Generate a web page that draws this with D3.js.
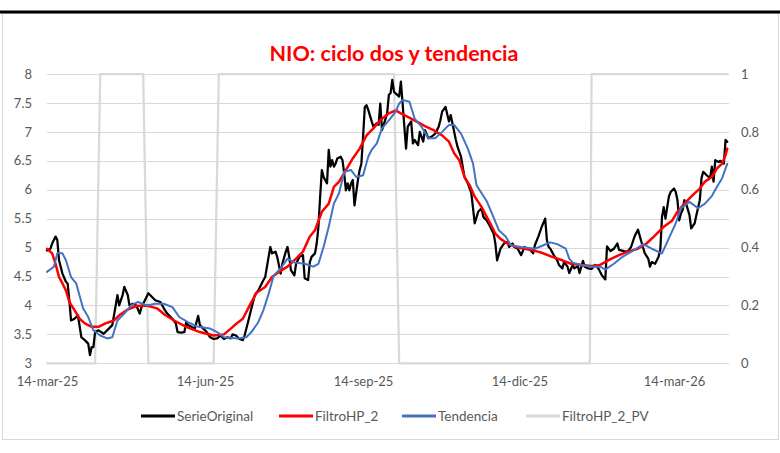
<!DOCTYPE html>
<html>
<head>
<meta charset="utf-8">
<script src="https://cdn.jsdelivr.net/npm/d3@7"></script>
<style>
  html, body { margin: 0; padding: 0; background: #fff; }
  svg { display: block; font-family: Lato, "Open Sans", sans-serif; }
</style>
</head>
<body>
<svg id="chart" width="780" height="453"></svg>
<script>
// ---------------- DATA ----------------
const title = "NIO: ciclo dos y tendencia";
const seriesNames = ["SerieOriginal", "FiltroHP_2", "Tendencia", "FiltroHP_2_PV"];
const seriesColors = ["#000000", "#ff0000", "#4472c4", "#d9d9d9"];

const leftTicks = [3, 3.5, 4, 4.5, 5, 5.5, 6, 6.5, 7, 7.5, 8];
const rightTicks = [0, 0.2, 0.4, 0.6, 0.8, 1];
const xTickDates = ["2025-03-14", "2025-06-14", "2025-09-14", "2025-12-14", "2026-03-14"];
const xTickLabels = ["14-mar-25", "14-jun-25", "14-sep-25", "14-dic-25", "14-mar-26"];
const xDomain = ["2025-03-14", "2026-04-15"];

const origDates = [
"2025-03-14","2025-03-16","2025-03-17","2025-03-19","2025-03-20","2025-03-21","2025-03-23","2025-03-25","2025-03-26","2025-03-27",
"2025-03-28","2025-03-30","2025-04-01","2025-04-03","2025-04-05","2025-04-07","2025-04-08","2025-04-09","2025-04-10","2025-04-11",
"2025-04-13","2025-04-16","2025-04-19","2025-04-21","2025-04-23","2025-04-24","2025-04-25","2025-04-27","2025-04-28","2025-04-30",
"2025-05-01","2025-05-03","2025-05-05","2025-05-07","2025-05-08","2025-05-10","2025-05-12","2025-05-14","2025-05-16","2025-05-19",
"2025-05-21","2025-05-23","2025-05-26","2025-05-28","2025-05-29","2025-05-31","2025-06-02","2025-06-03","2025-06-04","2025-06-06",
"2025-06-08","2025-06-10","2025-06-11","2025-06-13","2025-06-15","2025-06-17","2025-06-19","2025-06-21","2025-06-23","2025-06-25",
"2025-06-27","2025-06-29","2025-06-30","2025-07-02","2025-07-04","2025-07-06","2025-07-07","2025-07-09","2025-07-11","2025-07-13",
"2025-07-15","2025-07-17","2025-07-18","2025-07-19","2025-07-21","2025-07-22","2025-07-23","2025-07-25","2025-07-26","2025-07-28",
"2025-07-29","2025-07-31","2025-08-01","2025-08-02","2025-08-03","2025-08-05","2025-08-06","2025-08-08","2025-08-10","2025-08-11",
"2025-08-13","2025-08-14","2025-08-15","2025-08-17","2025-08-18","2025-08-19","2025-08-20","2025-08-21","2025-08-22","2025-08-24",
"2025-08-25","2025-08-26","2025-08-27","2025-08-28","2025-08-29","2025-08-30","2025-09-01","2025-09-02","2025-09-03","2025-09-04",
"2025-09-05","2025-09-06","2025-09-07","2025-09-08","2025-09-09","2025-09-11","2025-09-12","2025-09-13","2025-09-14","2025-09-15",
"2025-09-16","2025-09-17","2025-09-19","2025-09-20","2025-09-22","2025-09-23","2025-09-24","2025-09-25","2025-09-26","2025-09-28",
"2025-09-29","2025-09-30","2025-10-01","2025-10-02","2025-10-05","2025-10-06","2025-10-07","2025-10-09","2025-10-10","2025-10-12",
"2025-10-13","2025-10-14","2025-10-16","2025-10-17","2025-10-19","2025-10-20","2025-10-22","2025-10-24","2025-10-26","2025-10-28",
"2025-10-29","2025-10-30","2025-11-01","2025-11-03","2025-11-04","2025-11-05","2025-11-07","2025-11-08","2025-11-10","2025-11-12",
"2025-11-14","2025-11-16","2025-11-18","2025-11-20","2025-11-22","2025-11-23","2025-11-25","2025-11-27","2025-11-29","2025-11-30",
"2025-12-01","2025-12-03","2025-12-05","2025-12-07","2025-12-08","2025-12-10","2025-12-11","2025-12-13","2025-12-15","2025-12-17",
"2025-12-18","2025-12-20","2025-12-22","2025-12-23","2025-12-25","2025-12-27","2025-12-29","2025-12-30","2025-12-31","2026-01-01",
"2026-01-03","2026-01-05","2026-01-06","2026-01-08","2026-01-09","2026-01-11","2026-01-12","2026-01-14","2026-01-15","2026-01-17",
"2026-01-18","2026-01-20","2026-01-21","2026-01-23","2026-01-25","2026-01-27","2026-01-29","2026-01-31","2026-02-02","2026-02-03",
"2026-02-05","2026-02-07","2026-02-09","2026-02-10","2026-02-13","2026-02-15","2026-02-17","2026-02-19","2026-02-21","2026-02-23",
"2026-02-25","2026-02-27","2026-02-28","2026-03-01","2026-03-03","2026-03-05","2026-03-06","2026-03-07","2026-03-08","2026-03-09",
"2026-03-11","2026-03-12","2026-03-14","2026-03-15","2026-03-16","2026-03-17","2026-03-18","2026-03-19","2026-03-20","2026-03-21",
"2026-03-23","2026-03-24","2026-03-26","2026-03-27","2026-03-29","2026-03-30","2026-03-31","2026-04-02","2026-04-04","2026-04-05",
"2026-04-06","2026-04-07","2026-04-09","2026-04-10","2026-04-12","2026-04-13","2026-04-14"
];
const origValues = [
4.95,4.98,5.07,5.19,5.13,4.78,4.55,4.41,4.38,4.09,
3.74,3.77,3.83,3.45,3.40,3.34,3.14,3.28,3.28,3.54,
3.57,3.51,3.60,3.66,4.00,4.18,4.00,4.18,4.32,4.18,
4.00,4.03,4.00,3.86,3.97,4.09,4.21,4.15,4.09,4.06,
3.95,3.86,3.77,3.69,3.54,3.53,3.54,3.71,3.66,3.63,
3.60,3.82,3.66,3.60,3.54,3.45,3.42,3.43,3.48,3.42,
3.45,3.43,3.50,3.48,3.42,3.40,3.48,3.71,3.95,4.18,
4.26,4.38,4.44,4.49,4.84,5.01,4.90,4.93,4.84,4.55,
4.72,4.93,5.01,4.84,4.61,4.52,4.72,4.84,4.87,4.47,
4.44,4.75,4.84,4.90,5.07,5.36,5.88,6.34,6.22,6.11,
6.69,6.40,6.51,6.40,6.45,6.54,6.57,6.51,6.28,5.99,
6.11,5.99,6.11,6.17,5.73,6.17,6.34,6.45,6.92,7.43,
7.46,7.38,7.18,7.09,7.15,7.12,7.49,7.03,7.12,7.32,
7.64,7.67,7.90,7.69,7.61,7.87,7.49,6.71,7.09,7.18,
6.80,6.86,6.77,7.00,6.83,7.03,6.89,6.92,6.97,7.09,
7.20,7.35,7.43,7.18,7.29,7.15,6.86,6.74,6.57,6.22,
6.11,5.94,5.42,5.62,5.68,5.53,5.47,5.36,5.24,5.07,
4.78,4.98,5.07,5.10,5.01,5.07,5.01,4.98,4.87,5.01,
4.98,4.97,4.90,5.04,5.19,5.36,5.50,5.13,5.01,4.98,
4.87,4.78,4.70,4.64,4.75,4.67,4.56,4.70,4.64,4.68,
4.56,4.77,4.67,4.64,4.63,4.70,4.64,4.52,4.45,5.02,
4.94,4.98,5.07,4.96,4.94,4.93,5.01,5.19,5.31,5.10,
4.90,4.81,4.67,4.75,4.72,4.84,4.96,5.53,5.70,5.50,
5.88,5.96,6.02,5.96,5.82,5.47,5.59,5.65,5.82,5.76,
5.56,5.33,5.42,5.56,5.82,6.20,6.31,6.25,6.20,6.40,
6.14,6.51,6.48,6.50,6.45,6.86,6.83
];

const hpDates = [
"2025-03-14","2025-03-17","2025-03-19","2025-03-21","2025-03-23","2025-03-25","2025-03-27","2025-03-30","2025-04-02","2025-04-05",
"2025-04-09","2025-04-13","2025-04-17","2025-04-22","2025-04-25","2025-04-30","2025-05-05","2025-05-11","2025-05-17","2025-05-22",
"2025-05-27","2025-06-03","2025-06-11","2025-06-19","2025-06-25","2025-06-29","2025-07-02","2025-07-06","2025-07-10","2025-07-14",
"2025-07-19","2025-07-23","2025-07-27","2025-08-01","2025-08-06","2025-08-10","2025-08-14","2025-08-17","2025-08-21","2025-08-25",
"2025-08-28","2025-08-31","2025-09-04","2025-09-08","2025-09-12","2025-09-16","2025-09-20","2025-09-24","2025-09-29","2025-10-03",
"2025-10-06","2025-10-10","2025-10-15","2025-10-20","2025-10-25","2025-10-30","2025-11-03","2025-11-06","2025-11-09","2025-11-12",
"2025-11-15","2025-11-18","2025-11-22","2025-11-25","2025-11-27","2025-11-30","2025-12-03","2025-12-07","2025-12-13","2025-12-21",
"2025-12-27","2026-01-02","2026-01-08","2026-01-13","2026-01-19","2026-01-25","2026-01-30","2026-02-05","2026-02-10","2026-02-15",
"2026-02-21","2026-02-26","2026-03-03","2026-03-08","2026-03-13","2026-03-16","2026-03-20","2026-03-25","2026-03-29","2026-04-01",
"2026-04-05","2026-04-08","2026-04-11","2026-04-13","2026-04-14"
];
const hpValues = [
4.98,4.90,4.72,4.49,4.38,4.26,4.06,3.92,3.77,3.69,
3.63,3.63,3.69,3.74,3.83,3.93,3.99,4.00,3.95,3.83,
3.74,3.63,3.54,3.48,3.50,3.60,3.68,3.77,4.00,4.22,
4.32,4.49,4.58,4.67,4.81,4.93,5.19,5.30,5.62,5.76,
6.05,6.14,6.34,6.54,6.71,6.94,7.06,7.20,7.32,7.37,
7.32,7.26,7.18,7.10,7.03,6.94,6.83,6.63,6.51,6.22,
6.08,5.88,5.70,5.53,5.42,5.24,5.15,5.07,5.00,4.96,
4.91,4.84,4.78,4.72,4.70,4.68,4.70,4.80,4.87,4.93,
4.98,5.07,5.21,5.36,5.47,5.62,5.76,5.91,6.02,6.14,
6.22,6.37,6.45,6.60,6.71
];

const trendDates = [
"2025-03-14","2025-03-18","2025-03-20","2025-03-23","2025-03-25","2025-03-28","2025-03-31","2025-04-04","2025-04-07","2025-04-10",
"2025-04-14","2025-04-18","2025-04-21","2025-04-24","2025-04-28","2025-05-02","2025-05-06","2025-05-11","2025-05-16","2025-05-21",
"2025-05-26","2025-05-30","2025-06-04","2025-06-10","2025-06-17","2025-06-21","2025-06-25","2025-07-03","2025-07-08","2025-07-11",
"2025-07-15","2025-07-18","2025-07-21","2025-07-24","2025-07-28","2025-08-01","2025-08-05","2025-08-11","2025-08-16","2025-08-19",
"2025-08-22","2025-08-25","2025-08-28","2025-08-31","2025-09-03","2025-09-07","2025-09-10","2025-09-14","2025-09-17","2025-09-19",
"2025-09-22","2025-09-25","2025-09-29","2025-10-03","2025-10-05","2025-10-07","2025-10-11","2025-10-14","2025-10-18","2025-10-22",
"2025-10-26","2025-10-30","2025-11-03","2025-11-06","2025-11-10","2025-11-14","2025-11-17","2025-11-19","2025-11-22","2025-11-25",
"2025-11-28","2025-12-02","2025-12-06","2025-12-09","2025-12-15","2025-12-23","2025-12-28","2026-01-01","2026-01-05","2026-01-10",
"2026-01-12","2026-01-14","2026-01-19","2026-01-25","2026-01-30","2026-02-02","2026-02-07","2026-02-12","2026-02-16","2026-02-20",
"2026-02-24","2026-03-01","2026-03-07","2026-03-11","2026-03-15","2026-03-18","2026-03-23","2026-03-28","2026-04-01","2026-04-05",
"2026-04-08","2026-04-11","2026-04-14"
];
const trendValues = [
4.58,4.67,4.90,4.90,4.78,4.49,4.38,3.95,3.80,3.57,
3.48,3.43,3.45,3.74,3.86,4.00,4.06,4.00,4.03,4.03,
3.97,3.80,3.71,3.63,3.60,3.54,3.45,3.43,3.45,3.54,
3.71,3.92,4.20,4.52,4.64,4.81,4.74,4.72,4.67,4.72,
5.01,5.36,5.76,5.94,6.31,6.34,6.22,6.25,6.57,6.69,
6.80,7.06,7.20,7.35,7.49,7.55,7.52,7.23,7.09,6.89,
6.89,7.00,7.12,7.12,6.97,6.71,6.45,6.08,5.94,5.80,
5.59,5.30,5.19,5.04,5.01,4.98,5.04,5.09,5.06,4.98,
4.81,4.74,4.70,4.67,4.67,4.62,4.72,4.84,4.91,4.98,
5.06,4.98,4.90,5.16,5.42,5.68,5.79,5.68,5.76,5.89,
6.05,6.20,6.45
];

const pvDates = [
"2025-03-14","2025-04-11","2025-04-14","2025-05-09","2025-05-12","2025-06-19","2025-06-22",
"2025-10-02","2025-10-05","2026-01-24","2026-01-25","2026-04-14"
];
const pvValues = [0,0,1,1,0,0,1,1,0,0,1,1];

// ---------------- CHART ----------------
const parse = d3.utcParse("%Y-%m-%d");
const svg = d3.select("#chart");
const W = 780, H = 453;
const plot = { left: 47, right: 729, top: 74, bottom: 363.3 };
const textColor = "#595959";

// outer border & top rule
svg.append("rect").attr("x", 2.5).attr("y", 13.5).attr("width", W - 4).attr("height", 426)
  .attr("fill", "#fff").attr("stroke", "#d9d9d9").attr("stroke-width", 1);
svg.append("line").attr("x1", 0).attr("x2", W).attr("y1", 12).attr("y2", 12)
  .attr("stroke", "#000").attr("stroke-width", 3);

const x = d3.scaleUtc().domain(xDomain.map(parse)).range([plot.left, plot.right]);
const yL = d3.scaleLinear().domain([3, 8]).range([plot.bottom, plot.top]);
const yR = d3.scaleLinear().domain([0, 1]).range([plot.bottom, plot.top]);

// gridlines
svg.append("g").selectAll("line").data(leftTicks).join("line")
  .attr("x1", plot.left).attr("x2", plot.right)
  .attr("y1", d => Math.round(yL(d)) + 0.5).attr("y2", d => Math.round(yL(d)) + 0.5)
  .attr("stroke", "#d9d9d9").attr("stroke-width", 1);

// left axis
const axL = d3.axisLeft(yL).tickValues(leftTicks).tickSize(0).tickPadding(0).tickFormat(d3.format("~g"));
const gL = svg.append("g").attr("transform", `translate(${plot.left - 15},0)`).call(axL);
gL.select(".domain").remove();
gL.selectAll("text").attr("fill", textColor).style("font-size", "13px").style("font-family", "Lato, sans-serif");

// right axis
const axR = d3.axisRight(yR).tickValues(rightTicks).tickSize(0).tickPadding(0).tickFormat(d3.format("~g"));
const gR = svg.append("g").attr("transform", `translate(${plot.right + 12},0)`).call(axR);
gR.select(".domain").remove();
gR.selectAll("text").attr("fill", textColor).style("font-size", "13px").style("font-family", "Lato, sans-serif");

// bottom axis
const axB = d3.axisBottom(x).tickValues(xTickDates.map(parse)).tickSize(0).tickPadding(0)
  .tickFormat((d, i) => xTickLabels[i]);
const gB = svg.append("g").attr("transform", `translate(0,${plot.bottom + 13})`).call(axB);
gB.select(".domain").remove();
gB.selectAll("text").attr("fill", textColor).style("font-size", "13px").style("font-family", "Lato, sans-serif");

// lines
const mk = (dates, vals) => dates.map((d, i) => ({ date: parse(d), v: vals[i] }));
const lineL = d3.line().x(d => x(d.date)).y(d => yL(d.v));
const lineR = d3.line().x(d => x(d.date)).y(d => yR(d.v));

const seriesDefs = [
  { data: mk(pvDates, pvValues), gen: lineR, color: seriesColors[3], w: 2.25 },
  { data: mk(origDates, origValues), gen: lineL, color: seriesColors[0], w: 2.25 },
  { data: mk(hpDates, hpValues), gen: lineL, color: seriesColors[1], w: 2.5 },
  { data: mk(trendDates, trendValues), gen: lineL, color: seriesColors[2], w: 2 }
];
svg.append("g").selectAll("path").data(seriesDefs).join("path")
  .attr("d", s => s.gen(s.data))
  .attr("fill", "none")
  .attr("stroke", s => s.color)
  .attr("stroke-width", s => s.w)
  .attr("stroke-linejoin", "round")
  .attr("stroke-linecap", "round");

// title
svg.append("text").attr("x", 394).attr("y", 61).attr("text-anchor", "middle")
  .attr("fill", "#ff0000").style("font-size", "21.5px").style("font-weight", "bold")
  .style("font-family", "Lato, sans-serif").text(title);

// legend
const legendX = [141, 279, 402, 526];
const legendY = 416;
const lg = svg.append("g");
seriesNames.forEach((name, i) => {
  lg.append("line").attr("x1", legendX[i]).attr("x2", legendX[i] + 34)
    .attr("y1", legendY).attr("y2", legendY)
    .attr("stroke", seriesColors[i]).attr("stroke-width", 3);
  lg.append("text").attr("x", legendX[i] + 36).attr("y", legendY).attr("dy", "0.35em")
    .attr("fill", textColor).style("font-size", "13.5px").style("font-family", "Lato, sans-serif")
    .text(name);
});
</script>
</body>
</html>
